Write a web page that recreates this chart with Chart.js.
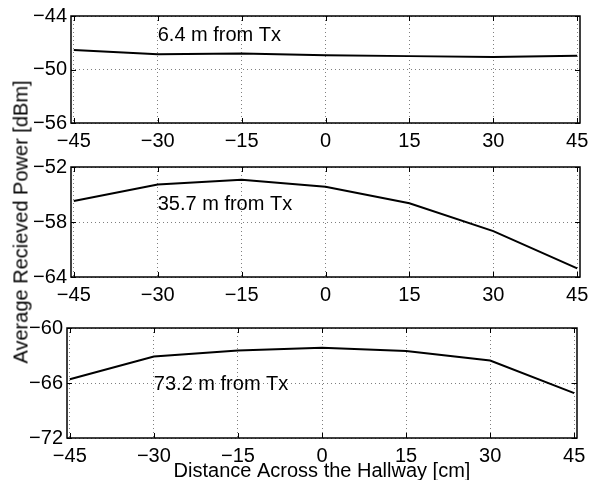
<!DOCTYPE html>
<html>
<head>
<meta charset="utf-8">
<script src="https://cdn.jsdelivr.net/npm/chart.js@4/dist/chart.umd.min.js"></script>
<style>
  body { margin: 0; background: #fff; }
  #wrap { position: relative; width: 595px; height: 480px; }
  #wrap canvas { position: absolute; left: 0; }
  #ytitle {
    position: absolute; left: 21px; top: 222px; white-space: nowrap;
    font: 20px 'Liberation Sans', Arial, sans-serif; color: #000;
    transform: translate(-50%, -50%) rotate(-90deg);
  }
</style>
</head>
<body>
<div id="wrap">
  <canvas id="c1" style="top:0px"></canvas>
  <canvas id="c2" style="top:150px"></canvas>
  <canvas id="c3" style="top:310px"></canvas>
  <div id="ytitle">Average Recieved Power [dBm]</div>
</div>
<script>
// distance across the hallway (cm)
const offsets = [-45, -30, -15, 0, 15, 30, 45];
const xTicks = [-45, -30, -15, 0, 15, 30, 45];

// average received power (dBm) at each distance from Tx
const power6_4 = [-47.8, -48.3, -48.2, -48.4, -48.5, -48.6, -48.45];
const power35_7 = [-55.7, -53.9, -53.4, -54.15, -55.95, -59.0, -63.05];
const power73_2 = [-65.6, -63.1, -62.45, -62.15, -62.5, -63.55, -67.1];

const yTicks6_4 = [-56, -50, -44];
const yTicks35_7 = [-64, -58, -52];
const yTicks73_2 = [-72, -66, -60];

const labels = ['6.4 m from Tx', '35.7 m from Tx', '73.2 m from Tx'];
const labelPos = [[-30, -46.2], [-30, -56.1], [-30, -66.2]];

const FONT = 'Liberation Sans, Arial, Helvetica, sans-serif';
const minus = v => String(v).replace('-', '\u2212');

// box around the plot area with inward tick marks, like matlab
const boxPlugin = {
    id: 'box',
    afterDatasetsDraw(chart) {
        const { ctx, chartArea: a, scales } = chart;
        ctx.save();
        ctx.strokeStyle = '#000';
        ctx.lineWidth = 1;
        ctx.beginPath();
        scales.x.ticks.forEach(t => {
            const px = Math.round(scales.x.getPixelForValue(t.value)) + 0.5;
            ctx.moveTo(px, a.bottom); ctx.lineTo(px, a.bottom - 5);
            ctx.moveTo(px, a.top); ctx.lineTo(px, a.top + 5);
        });
        scales.y.ticks.forEach(t => {
            const py = Math.round(scales.y.getPixelForValue(t.value)) + 0.5;
            ctx.moveTo(a.left, py); ctx.lineTo(a.left + 5, py);
            ctx.moveTo(a.right, py); ctx.lineTo(a.right - 5, py);
        });
        ctx.stroke();
        ctx.lineWidth = 1.5;
        ctx.strokeRect(a.left, a.top, a.right - a.left, a.bottom - a.top);
        ctx.restore();
    }
};

// text note inside each panel
const notePlugin = {
    id: 'note',
    afterDraw(chart, args, opts) {
        const { ctx, scales } = chart;
        ctx.save();
        ctx.font = '20px ' + FONT;
        ctx.fillStyle = '#000';
        ctx.textAlign = 'left';
        ctx.textBaseline = 'middle';
        ctx.fillText(opts.text, scales.x.getPixelForValue(opts.x), scales.y.getPixelForValue(opts.y));
        ctx.restore();
    }
};

function makePanel(id, height, values, yTicks, idx, layout) {
    const canvas = document.getElementById(id);
    canvas.style.width = '595px';
    canvas.style.height = height + 'px';
    return new Chart(canvas, {
        type: 'line',
        data: {
            datasets: [{
                data: offsets.map((x, i) => ({ x: x, y: values[i] })),
                borderColor: '#000',
                borderWidth: 2,
                pointRadius: 0,
                tension: 0,
                fill: false
            }]
        },
        plugins: [boxPlugin, notePlugin],
        options: {
            responsive: false,
            animation: false,
            events: [],
            layout: { padding: { top: layout.top, right: layout.right, left: 0, bottom: 0 } },
            plugins: {
                legend: { display: false },
                tooltip: { enabled: false },
                note: { text: labels[idx], x: labelPos[idx][0], y: labelPos[idx][1] }
            },
            scales: {
                x: {
                    type: 'linear',
                    min: -45.5,
                    max: 45.5,
                    afterBuildTicks: s => { s.ticks = xTicks.map(v => ({ value: v })); },
                    afterFit: s => { s.height = layout.xh; },
                    ticks: {
                        color: '#000',
                        padding: 6,
                        maxRotation: 0,
                        autoSkip: false,
                        font: { family: FONT, size: 20 },
                        callback: v => minus(v)
                    },
                    grid: { color: 'rgba(0,0,0,0.5)', lineWidth: 1, drawTicks: false },
                    border: { display: false, dash: [1, 3] },
                    title: layout.xTitle ? {
                        display: true,
                        text: 'Distance Across the Hallway [cm]',
                        color: '#000',
                        padding: 0,
                        font: { family: FONT, size: 20, lineHeight: 0.9 }
                    } : { display: false }
                },
                y: {
                    min: yTicks[0],
                    max: yTicks[yTicks.length - 1],
                    afterBuildTicks: s => { s.ticks = yTicks.map(v => ({ value: v })); },
                    afterFit: s => { s.width = layout.yw; },
                    ticks: {
                        color: '#000',
                        padding: 4,
                        font: { family: FONT, size: 20 },
                        callback: v => minus(v)
                    },
                    grid: { color: 'rgba(0,0,0,0.5)', lineWidth: 1, drawTicks: false },
                    border: { display: false, dash: [1, 3] }
                }
            }
        }
    });
}

makePanel('c1', 160, power6_4, yTicks6_4, 0, { top: 14, right: 15, xh: 37, yw: 71 });
makePanel('c2', 160, power35_7, yTicks35_7, 1, { top: 17, right: 15, xh: 33, yw: 71 });
makePanel('c3', 170, power73_2, yTicks73_2, 2, { top: 18, right: 18, xh: 42, yw: 67, xTitle: true });
</script>
</body>
</html>
